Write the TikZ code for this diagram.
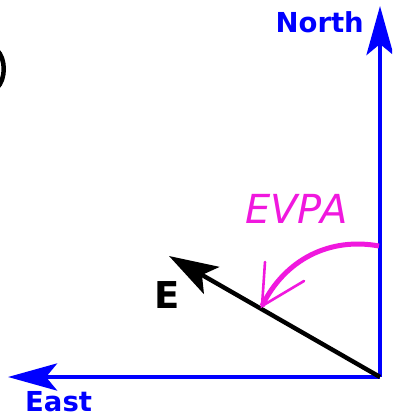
\documentclass[tikz,border=0pt]{standalone}
\usepackage{fontspec}
\setmainfont{DejaVu Sans}
\usetikzlibrary{arrows.meta}
\definecolor{axisblue}{RGB}{0,0,255}
\definecolor{evpamag}{RGB}{240,24,222}
\tikzset{
  axisline/.style={draw=axisblue, line width=4.8pt, -{Stealth[length=49pt,width=27pt,inset=11pt]}},
  evec/.style={draw=black, line width=4.4pt, -{Stealth[length=49pt,width=31pt,inset=11pt]}},
  evpaarc/.style={draw=evpamag, line width=5pt},
  evpahead/.style={draw=evpamag, line width=2.6pt, line cap=round, line join=miter},
  axislabel/.style={text=axisblue, inner sep=0pt, font=\bfseries\fontsize{27.5}{27.5}\selectfont},
}
\begin{document}
\begin{tikzpicture}[x=1pt,y=-1pt]
\useasboundingbox (0,0) rectangle (392,414);
\begin{scope}
\clip (0,0) rectangle (392,414);
\coordinate (O) at (380,377);
\coordinate (N) at (380,6);
\coordinate (W) at (8,377);
\coordinate (Etip) at (169,256);
\coordinate (A0) at (379,246);
\coordinate (Atip) at (262,306);
\coordinate (B1) at (265,262);
\coordinate (B2) at (304,281);
% partial letter at left edge
\draw[line width=4.5pt] (-3,50) .. controls (6,59) and (6,79) .. (-3,88);
\draw[axisline] (O) -- (N);
\draw[axisline] (O) -- (W);
\draw[evec] (O) -- (Etip);
\draw[evpaarc] (A0) .. controls (330,237) and (285,259) .. (Atip);
\draw[evpahead] (B1) -- (Atip) -- (B2);
\node[axislabel, anchor=base east] (northlbl) at (364,33) {North};
\node[axislabel, anchor=base west] (eastlbl) at (25,411) {East};
\node[inner sep=0pt, anchor=base west, font=\bfseries\fontsize{37}{37}\selectfont] (elbl) at (154.5,308) {E};
\node[inner sep=0pt, anchor=base west, text=evpamag, font=\itshape\fontsize{40}{40}\selectfont] (evpalbl) at (245,223) {EVPA};
\end{scope}
\end{tikzpicture}
\end{document}
